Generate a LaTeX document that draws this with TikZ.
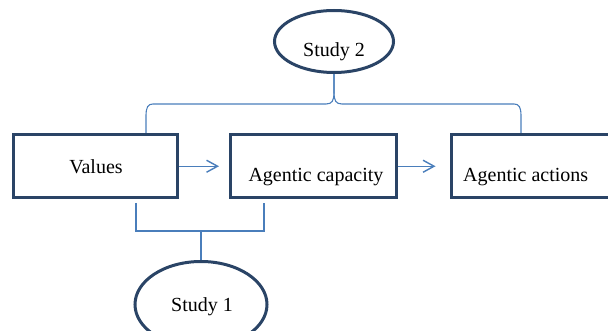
\documentclass[tikz,border=0pt]{standalone}
\usepackage{fontspec}
\setmainfont{Liberation Serif}
\usetikzlibrary{arrows.meta,shapes.geometric,backgrounds}
\definecolor{boxc}{HTML}{2A4466}
\definecolor{linec}{HTML}{4A7EBB}
\begin{document}
\begin{tikzpicture}[x=1pt,y=-1pt,
  cbox/.style={draw=boxc,line width=3pt,rectangle,inner sep=0pt,minimum width=#1,minimum height=63.5pt},
  oval/.style={draw=boxc,line width=3pt,ellipse,inner sep=0pt},
  lbl/.style={font=\fontsize{20}{24}\selectfont,anchor=base,inner sep=0pt},
  conn/.style={draw=linec,line width=1.1pt},
  arr/.style={draw=linec,line width=1.4pt,-{Straight Barb[length=11pt,width=12pt]}}]
\useasboundingbox (0,0) rectangle (608,331);
\begin{scope}
\clip (0,0) rectangle (608,331);
% boxes
\node[cbox=164pt] (values) at (95.5,166.25) {};
\node[cbox=165.5pt] (cap) at (313.25,166.25) {};
\node[cbox=168.5pt] (act) at (535.75,166.25) {};
% ellipses
\node[oval,minimum width=119pt,minimum height=62pt] (s2) at (334,41.5) {};
\node[oval,minimum width=132pt,minimum height=86pt] (s1) at (201,304.5) {};
% texts
\node[lbl] (tv) at (96,174) {Values};
\node[lbl] (tc) at (316,182) {Agentic capacity};
\node[lbl,anchor=base west] (ta) at (463,182) {Agentic actions};
\node[lbl] (t2) at (334,57) {Study 2};
\node[lbl] (t1) at (202,311) {Study 1};
\end{scope}
% helper coordinates
\coordinate (bl) at (146,0);
\coordinate (br) at (521,0);
\coordinate (bx1) at (136,0);
\coordinate (bx2) at (264,0);
\coordinate (yb) at (0,231);
\coordinate (bj) at (s1.north |- yb);
\coordinate (vb) at ([yshift=-3.5pt]values.south);
\coordinate (cb) at ([yshift=-3.5pt]cap.south);
\begin{scope}[on background layer]
% top brace
\draw[conn] (s2.south) -- (334,92) .. controls (334,101) and (332,104) .. (326,104)
  -- (153,104) .. controls (148,104) and (146,107) .. (146,116) -- (values.north -| bl);
\draw[conn] (s2.south) -- (334,92) .. controls (334,101) and (336,104) .. (342,104)
  -- (514,104) .. controls (519,104) and (521,107) .. (521,116) -- (act.north -| br);
% bottom bracket
\draw[conn] (vb -| bx1) |- (bj) -| (cb -| bx2);
\draw[conn] (bj) -- (s1.north);
% arrows
\draw[arr] (values.east) -- ([xshift=-10pt]cap.west);
\draw[arr] (cap.east) -- ([xshift=-14.5pt]act.west);
\end{scope}
\end{tikzpicture}
\end{document}
